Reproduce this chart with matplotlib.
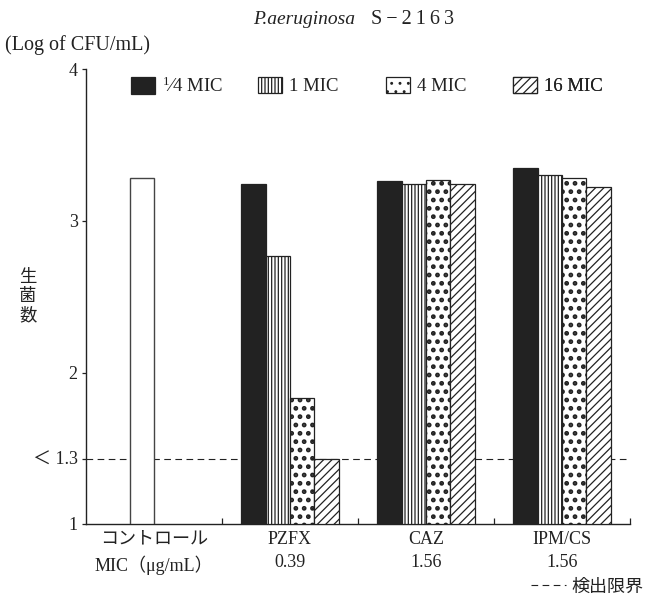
#!/usr/bin/env python3
import numpy as np
import matplotlib
matplotlib.use("Agg")
import matplotlib.pyplot as plt

plt.rcParams["font.family"] = ["Liberation Serif", "Noto Sans CJK JP"]
plt.rcParams["mathtext.fontset"] = "custom"
plt.rcParams["mathtext.rm"] = "Liberation Serif"
plt.rcParams["mathtext.it"] = "Liberation Serif:italic"
plt.rcParams["hatch.linewidth"] = 0.9
plt.rcParams["hatch.color"] = "#222222"

INK = "#222222"

# viable count (log CFU/mL) per drug group
GROUPS = ["コントロール\nMIC（μg/mL）", "PZFX\n0.39", "CAZ\n1.56", "IPM/CS\n1.56"]
CONTROL = 3.28
SERIES = [r"$^{\mathrm{1}}$⁄4 MIC", "1 MIC", "4 MIC", "16 MIC"]
PZFX = [3.245, 2.77, 1.79, 1.3]
CAZ = [3.26, 3.24, 3.27, 3.245]
IPM_CS = [3.345, 3.305, 3.285, 3.225]
DETECTION_LIMIT = 1.3
Y_TICKS = [1, 1.3, 2, 3, 4]
Y_TICK_LABELS = ["1", "＜ 1.3", "2", "3", "4"]

HATCHES = [None, "|||||", "..", "////"]
HATCH_LW = [0.9, 0.9, 2.2, 0.9]
FACES = [INK, "white", "white", "white"]

# axis is stretched between 1 and 2 the same way as the printed figure
BREAKS = [-10.0, 1.0, 1.3, 2.0, 4.0, 100.0]
SPANS = [-2394.7, 0.0, 65.3, 151.3, 454.7, 15017.9]


def fwd(v):
    return np.interp(v, BREAKS, SPANS)


def inv(v):
    return np.interp(v, SPANS, BREAKS)


fig = plt.figure(figsize=(6.45, 6.03), dpi=100)
ax = fig.add_axes([86 / 645, 1 - 524 / 603, 544 / 645, 455 / 603])
ax.set_yscale("function", functions=(fwd, inv))

width = 0.179
x = np.arange(len(GROUPS))
ax.bar(x[0] - width / 2, CONTROL - 1, bottom=1, width=width,
       facecolor="white", edgecolor="#444444", linewidth=1.0, zorder=3)

treated = np.array([PZFX, CAZ, IPM_CS])
handles = []
for i, label in enumerate(SERIES):
    vals = treated[:, i]
    bars = ax.bar(x[1:] + (i - 1.5) * width, vals - 1, bottom=1, width=width,
                  facecolor=FACES[i], edgecolor=INK, linewidth=0.9,
                  hatch=HATCHES[i], zorder=3)
    for p in bars.patches:
        if hasattr(p, "set_hatch_linewidth"):
            p.set_hatch_linewidth(HATCH_LW[i])
    handles.append(bars.patches[0])

limit_line = ax.axhline(DETECTION_LIMIT, color=INK, linewidth=0.8,
                        linestyle=(0, (6, 4)), zorder=1)

ax.set_xlim(-0.5, 3.5)
ax.set_ylim(1, 4)
ax.set_yticks(Y_TICKS)
ax.set_yticklabels(Y_TICK_LABELS)
ax.set_xticks(x)
ax.set_xticklabels(GROUPS, linespacing=1.5)
ax.set_xticks(x + 0.5, minor=True)
ax.tick_params(axis="x", which="major", length=0, pad=5, labelsize=13, colors=INK)
ax.tick_params(axis="x", which="minor", direction="in", length=4, width=0.9, color=INK)
ax.tick_params(axis="y", which="major", direction="out", length=3, width=0.9,
               pad=3, labelsize=13, colors=INK)
ax.yaxis.set_minor_locator(matplotlib.ticker.NullLocator())
for side in ("top", "right"):
    ax.spines[side].set_visible(False)
for side in ("left", "bottom"):
    ax.spines[side].set_color(INK)
    ax.spines[side].set_linewidth(1.0)

legend_x = [0.0827, 0.3162, 0.5515, 0.7849]
for h, label, lx in zip(handles, SERIES, legend_x):
    lg = ax.legend([h], [label], loc="center left",
                   bbox_to_anchor=(lx, 0.9626), frameon=False, fontsize=13.5,
                   borderpad=0, borderaxespad=0, handlelength=1.3,
                   handleheight=1.0, handletextpad=0.35, labelcolor=INK)
    ax.add_artist(lg)

fig.legend([limit_line], ["検出限界"], loc="center right",
           bbox_to_anchor=(643 / 645, 1 - 587 / 603), frameon=False,
           fontsize=13, borderpad=0, borderaxespad=0, handlelength=1.9,
           handletextpad=0.3, labelcolor=INK)

fig.text(355 / 645, 1 - 19 / 603, "P.aeruginosa", style="italic",
         ha="right", va="center", fontsize=14, color=INK)
fig.text(371 / 645, 1 - 19 / 603, "S\u2009−\u20092\u20091\u20096\u20093",
         ha="left", va="center", fontsize=14.5, color=INK)
fig.text(5 / 645, 1 - 45 / 603, "(Log of CFU/mL)", ha="left", va="center",
         fontsize=14.5, color=INK)
fig.text(28 / 645, 1 - 296 / 603, "生\n菌\n数", ha="center", va="center",
         fontsize=12.5, linespacing=1.1, color=INK, family="Noto Sans CJK JP")

fig.savefig("out.png", dpi=100)
